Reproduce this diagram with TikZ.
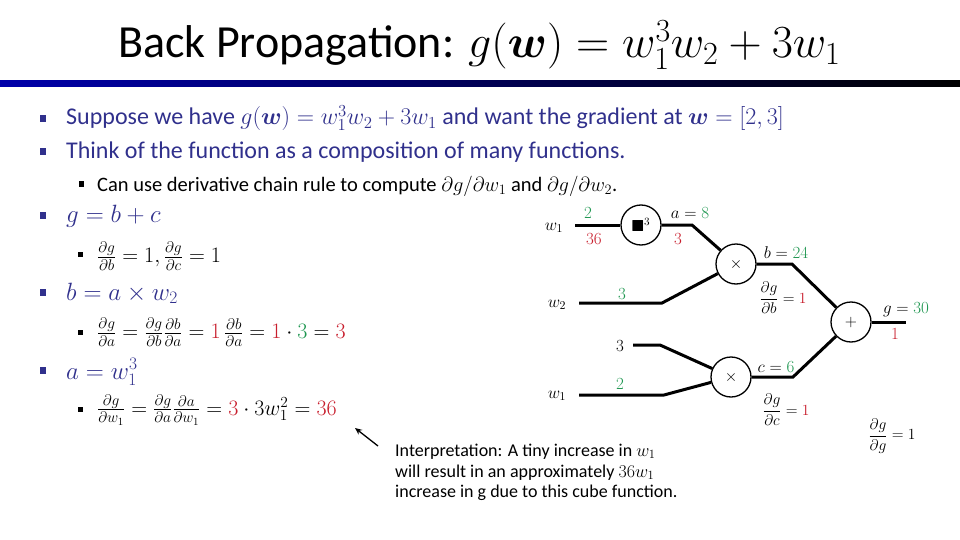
\RequirePackage{fix-cm}
\documentclass[tikz,border=0pt]{standalone}
\usepackage{amsmath,amssymb}
\usepackage{fontspec}
\setmainfont{Carlito}
\usetikzlibrary{arrows.meta}
\definecolor{bpurple}{RGB}{48,48,140}
\definecolor{bgreen}{RGB}{30,150,80}
\definecolor{bred}{RGB}{200,30,45}
\definecolor{barblue}{RGB}{0,0,170}
\begin{document}
\begin{tikzpicture}[x=1pt,y=-1pt,
  title/.style={anchor=base west,inner sep=0pt,font=\fontsize{46}{52}\selectfont},
  txt/.style={anchor=base west,inner sep=0pt,text=bpurple,font=\fontsize{24}{28}\selectfont},
  mtxt/.style={anchor=base west,inner sep=0pt,text=bpurple,font=\fontsize{25}{29}\selectfont},
  subtxt/.style={anchor=base west,inner sep=0pt,font=\fontsize{20.5}{24}\selectfont},
  fractxt/.style={anchor=west,inner sep=0pt,font=\fontsize{22}{26}\selectfont},
  bul/.style={fill=bpurple,minimum width=6pt,minimum height=7pt,inner sep=0pt},
  subbul/.style={fill=black,minimum size=5pt,inner sep=0pt},
  op/.style={circle,draw,line width=1.3pt,minimum size=40pt,inner sep=0pt,font=\fontsize{16}{18}\selectfont},
  wire/.style={line width=3pt},
  lab/.style={inner sep=0pt,font=\fontsize{17}{20}\selectfont},
  glab/.style={lab,text=bgreen},
  rlab/.style={lab,text=bred},
  dlab/.style={inner sep=0pt,font=\fontsize{15.5}{18}\selectfont},
  itxt/.style={anchor=base west,inner sep=0pt,font=\fontsize{18}{21}\selectfont}]
\useasboundingbox (0,0) rectangle (960,540);
% title and bar
\node[title] (ttl) at (118,58) {Back Propagation: $g(\boldsymbol{w}) = w_1^3w_2+3w_1$};
\shade[left color=barblue,right color=black] (0,81) rectangle (960,87);
% bullets
\node[bul] (bu1) at (43,119) {};
\node[txt] (t1) at (66,125) {Suppose we have $g(\boldsymbol{w}) = w_1^3w_2+3w_1$ and want the gradient at $\boldsymbol{w}=[2,3]$};
\node[bul] (bu2) at (43,152) {};
\node[txt] (t2) at (66,159) {Think of the function as a composition of many functions.};
\node[subbul] (sb1) at (81,184) {};
\node[subtxt] (s1) at (97,191) {Can use derivative chain rule to compute $\partial g/\partial w_1$ and $\partial g/\partial w_2$.};
\node[bul] (bu3) at (43,215) {};
\node[mtxt] (t3) at (66,222) {$g=b+c$};
\node[subbul] (sb2) at (80,254) {};
\node[fractxt] (s2) at (97,256) {$\frac{\partial g}{\partial b}=1,\frac{\partial g}{\partial c}=1$};
\node[bul] (bu4) at (43,292) {};
\node[mtxt] (t4) at (66,300) {$b=a\times w_2$};
\node[subbul] (sb3) at (80,332) {};
\node[fractxt] (s3) at (97,332) {$\frac{\partial g}{\partial a}=\frac{\partial g}{\partial b}\frac{\partial b}{\partial a}=\textcolor{bred}{1}\,\frac{\partial b}{\partial a}=\textcolor{bred}{1}\cdot\textcolor{bgreen}{3}=\textcolor{bred}{3}$};
\node[bul] (bu5) at (43,370) {};
\node[mtxt] (t5) at (66,379) {$a=w_1^3$};
\node[subbul] (sb4) at (80,409) {};
\node[fractxt] (s4) at (97,410) {$\frac{\partial g}{\partial w_1}=\frac{\partial g}{\partial a}\frac{\partial a}{\partial w_1}=\textcolor{bred}{3}\cdot 3w_1^2=\textcolor{bred}{36}$};
% diagram nodes
\node[op] (cube) at (641,225) {$\blacksquare^{3}$};
\node[op] (mul1) at (736,264) {$\times$};
\node[op] (plus) at (851,322) {$+$};
\node[op] (mul2) at (731,377) {$\times$};
\node[lab] (w1a) at (554,228) {$w_1$};
\node[lab] (w2a) at (557,305) {$w_2$};
\node[lab] (thr) at (620,346) {$3$};
\node[lab] (w1b) at (557,396) {$w_1$};
\coordinate (w1s) at (575,225);
\coordinate (abend) at (692,225);
\coordinate (w2s) at (579,303);
\coordinate (w2bend) at (662,303);
\coordinate (bbend) at (792,264);
\coordinate (gend) at (906,322);
\coordinate (ts) at (633,345);
\coordinate (tbend) at (660,345);
\coordinate (w1s2) at (579,395);
\coordinate (w1bend2) at (664,395);
\coordinate (cbend) at (793,377);
\draw[wire] (w1s) -- (cube);
\draw[wire] (cube.east) -- (abend) -- (mul1);
\draw[wire] (w2s) -- (w2bend) -- (mul1);
\draw[wire] (mul1.east) -- (bbend) -- (plus);
\draw[wire] (plus.east) -- (gend);
\draw[wire] (ts) -- (tbend) -- (mul2);
\draw[wire] (w1s2) -- (w1bend2) -- (mul2);
\draw[wire] (mul2.east) -- (cbend) -- (plus);
% labels
\node[glab] (l2a) at (588,213) {$2$};
\node[rlab] (l36) at (594,239) {$36$};
\node[lab] (la8) at (690,213) {$a=\textcolor{bgreen}{8}$};
\node[rlab] (l3r) at (678,239) {$3$};
\node[lab] (lb24) at (786,253) {$b=\textcolor{bgreen}{24}$};
\node[glab] (l3g) at (622,294) {$3$};
\node[dlab] (ldb) at (783,298) {$\dfrac{\partial g}{\partial b}=\textcolor{bred}{1}$};
\node[lab] (lg30) at (906,310) {$g=\textcolor{bgreen}{30}$};
\node[rlab] (l1r) at (895,334) {$1$};
\node[glab] (l2b) at (620,384) {$2$};
\node[lab] (lc6) at (776,367) {$c=\textcolor{bgreen}{6}$};
\node[dlab] (ldc) at (786,410) {$\dfrac{\partial g}{\partial c}=\textcolor{bred}{1}$};
\node[dlab] (ldg) at (892,436) {$\dfrac{\partial g}{\partial g}=1$};
% interpretation
\node[itxt] (i1) at (395,456) {Interpretation: A tiny increase in $w_1$};
\node[itxt] (i2) at (395,477) {will result in an approximately $36w_1$};
\node[itxt] (i3) at (395,497) {increase in g due to this cube function.};
\coordinate (arrtail) at (378,446);
\coordinate (arrtip) at (355,428);
\draw[line width=1.3pt,-{Stealth[length=7pt,width=6pt]}] (arrtail) -- (arrtip);
\end{tikzpicture}
\end{document}
